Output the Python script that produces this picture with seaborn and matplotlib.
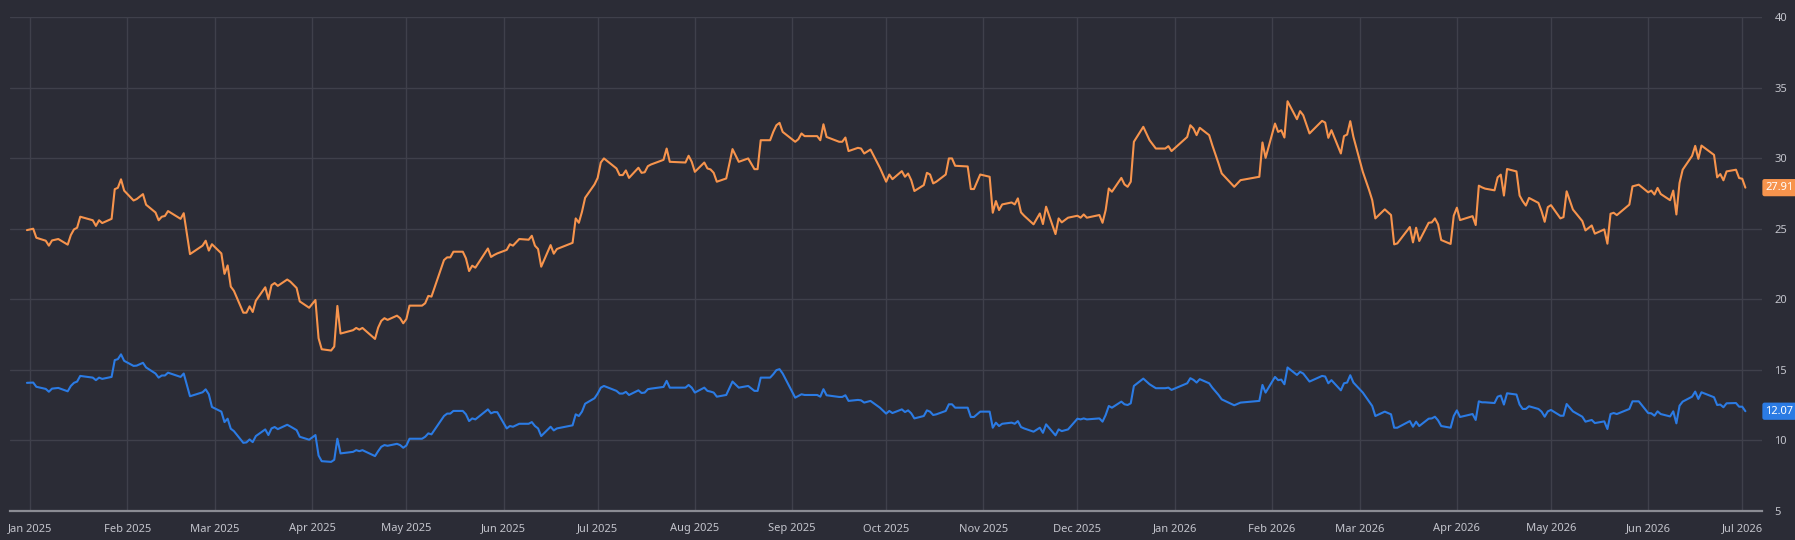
import pandas as pd
import matplotlib
matplotlib.use("Agg")
import matplotlib.pyplot as plt
import matplotlib.dates as mdates
import matplotlib.transforms as mtransforms
import seaborn as sns

# trading days, as day offsets from 2025-01-01
day = [-1, 1, 2, 5, 6, 7, 9, 12, 13, 14, 15, 16, 20, 21, 22, 23, 26, 27, 28, 29, 30,
       33, 34, 36, 37, 40, 41, 42, 43, 44, 48, 49, 51, 55, 56, 57, 58, 61, 62, 63, 64,
       65, 68, 69, 70, 71, 72, 75, 76, 77, 78, 79, 82, 83, 85, 86, 89,
       91, 92, 93, 96, 97, 98, 99, 103, 104, 105, 106, 110, 111, 112, 113, 114, 117,
       118, 119, 120, 121, 125, 126, 127, 128, 132, 133, 134, 135, 138, 139, 140, 141,
       142, 146, 147, 148, 149, 152, 153, 154, 156, 159, 160, 161, 162, 163, 166, 167,
       168, 173, 174, 175, 176,
       177, 180, 181, 182, 183, 187, 188, 189, 190, 191, 194, 195, 196, 197, 198, 202,
       203, 204, 209, 210, 211, 212, 215, 216, 217, 218, 219, 222, 224, 226, 229, 231,
       232, 233, 236, 237, 238, 239, 240, 244, 245, 246, 247, 251, 252, 253, 254, 258,
       259, 260, 261, 264, 265, 266, 268, 271, 273,
       274, 275, 278, 279, 280, 281, 282, 285, 286, 287, 288, 289, 292, 293, 294, 295,
       299, 300, 301, 303, 306, 307, 308, 309, 310, 313, 314, 315, 316, 317, 320, 322,
       323, 324, 327, 328, 329, 331, 334, 335, 336, 337, 341, 342, 343, 344, 345, 348,
       349, 350, 351, 352, 355, 357, 359, 362, 363, 364,
       369, 370, 371, 372, 373, 376, 377, 379, 380, 384, 386, 392, 393, 394, 397, 398,
       399, 400, 401, 404, 405, 406, 408, 412, 413, 414, 415, 418, 419, 420, 421, 422,
       425, 427, 428, 429, 432, 434, 435, 436, 440, 441, 442, 443, 446, 447, 448, 449,
       450, 453, 454, 455, 456,
       460, 461, 462, 463, 464, 467, 468, 469, 470, 471, 474, 475, 476, 477, 478, 481,
       482, 483, 484, 485, 488, 489, 490, 492, 495, 496, 498, 499, 502, 503, 504, 505,
       506, 510, 511, 513, 516, 517, 518, 519, 520, 523, 524, 525, 526, 527, 530, 531,
       532, 533, 537, 538, 539, 540, 541, 544, 545, 546, 547]

orange = [24.9, 25.0, 24.36, 24.15, 23.8, 24.17, 24.27, 23.87, 24.55, 24.95, 25.07, 25.85,
          25.6, 25.2, 25.6, 25.4, 25.7, 27.8, 27.9, 28.5, 27.7, 27.0, 27.1, 27.45, 26.7,
          26.15, 25.6, 25.85, 25.9, 26.25, 25.7, 26.1, 23.2, 23.8, 24.15, 23.45, 23.9,
          23.25, 21.8, 22.4, 20.9, 20.6, 19.05, 19.05, 19.5, 19.1, 19.9, 20.85, 20.0, 21.0,
          21.15, 20.95, 21.4, 21.25, 20.8, 19.85, 19.4,
          19.95, 17.24, 16.46, 16.37, 16.65, 19.53, 17.57, 17.81, 17.97, 17.85, 17.97,
          17.19, 17.99, 18.47, 18.66, 18.54, 18.84, 18.66, 18.3, 18.6, 19.55, 19.55, 19.72,
          20.24, 20.19, 22.78, 22.97, 22.97, 23.37, 23.37, 22.9, 22.0, 22.38, 22.24, 23.6,
          23.0, 23.14, 23.25, 23.5, 23.9, 23.8, 24.27, 24.22, 24.5, 23.8, 23.56, 22.31,
          23.84, 23.23, 23.56, 24.0, 25.73, 25.42, 26.2,
          27.19, 28.14, 28.6, 29.69, 29.98, 29.27, 28.8, 28.8, 29.13, 28.6, 29.32, 28.96,
          29.0, 29.43, 29.55, 29.88, 30.68, 29.74, 29.69, 30.17, 29.74, 29.03, 29.69, 29.27,
          29.2, 28.96, 28.33, 28.56, 30.64, 29.74, 29.98, 29.22, 29.22, 31.27, 31.27, 31.86,
          32.33, 32.5, 31.86, 31.16, 31.34, 31.75, 31.56, 31.56, 31.27, 32.4, 31.5, 31.16,
          31.16, 31.46, 30.5, 30.73, 30.68, 30.33, 30.61, 29.32, 28.33,
          28.84, 28.51, 29.08, 28.68, 28.91, 28.44, 27.67, 28.09, 28.96, 28.84, 28.21,
          28.33, 28.84, 29.98, 29.98, 29.46, 29.41, 27.81, 27.81, 28.84, 28.68, 26.13,
          26.96, 26.32, 26.72, 26.86, 26.72, 27.15, 26.16, 25.92, 25.31, 26.08, 25.33,
          26.56, 24.62, 25.73, 25.45, 25.78, 25.92, 25.78, 26.01, 25.78, 25.97, 25.42,
          26.32, 27.85, 27.62, 28.6, 28.14, 27.97, 28.33, 31.16, 32.22, 31.27, 30.68,
          30.68, 30.85, 30.5,
          31.5, 32.33, 32.1, 31.63, 32.15, 31.63, 30.92, 29.62, 28.92, 27.97, 28.44, 28.68,
          31.11, 30.02, 32.45, 31.86, 31.98, 31.46, 34.03, 32.76, 33.33, 33.04, 31.75,
          32.64, 32.52, 31.44, 31.98, 30.33, 31.56, 31.67, 32.62, 31.51, 29.03, 27.74,
          27.03, 25.73, 26.37, 25.97, 23.89, 23.96, 25.12, 24.03, 25.07, 24.13, 25.42,
          25.45, 25.73, 25.31, 24.2, 23.92, 25.92, 26.49, 25.61,
          25.89, 25.26, 28.05, 27.93, 27.84, 27.72, 28.64, 28.83, 27.35, 29.23, 29.06,
          27.35, 26.95, 26.64, 27.18, 26.83, 26.24, 25.49, 26.53, 26.67, 25.73, 25.82,
          27.65, 26.36, 25.54, 24.88, 25.23, 24.65, 24.95, 23.94, 26.06, 26.13, 25.96,
          26.71, 28.0, 28.12, 27.58, 27.7, 27.42, 27.89, 27.46, 27.02, 27.7, 26.01, 28.24,
          29.18, 30.16, 30.87, 29.95, 30.89, 30.23, 28.64, 28.87, 28.43, 29.06, 29.18,
          28.59, 28.54, 27.91]

blue = [14.08, 14.1, 13.8, 13.65, 13.45, 13.67, 13.72, 13.48, 13.86, 14.08, 14.17, 14.57,
        14.45, 14.27, 14.45, 14.36, 14.5, 15.69, 15.76, 16.1, 15.64, 15.28, 15.3, 15.5,
        15.17, 14.74, 14.45, 14.6, 14.6, 14.8, 14.5, 14.74, 13.13, 13.41, 13.62, 13.27,
        12.37, 12.04, 11.3, 11.54, 10.83, 10.66, 9.83, 9.86, 10.07, 9.88, 10.31, 10.78,
        10.38, 10.85, 10.95, 10.8, 11.11, 10.99, 10.73, 10.26, 10.05,
        10.38, 8.93, 8.53, 8.48, 8.63, 10.12, 9.08, 9.19, 9.31, 9.24, 9.31, 8.89, 9.24,
        9.55, 9.67, 9.62, 9.76, 9.67, 9.48, 9.64, 10.12, 10.12, 10.26, 10.5, 10.43, 11.73,
        11.9, 11.9, 12.09, 12.09, 11.85, 11.37, 11.56, 11.49, 12.2, 11.92, 12.01, 12.0,
        10.85, 11.02, 10.97, 11.18, 11.18, 11.3, 11.02, 10.85, 10.31, 10.97, 10.71, 10.85,
        11.07, 11.85, 11.73, 12.04,
        12.6, 12.99, 13.32, 13.74, 13.86, 13.51, 13.32, 13.32, 13.44, 13.22, 13.55, 13.36,
        13.39, 13.63, 13.67, 13.79, 14.22, 13.74, 13.74, 13.93, 13.74, 13.39, 13.74, 13.51,
        13.46, 13.39, 13.1, 13.22, 14.17, 13.74, 13.86, 13.51, 13.51, 14.45, 14.45, 14.69,
        14.98, 15.05, 14.74, 13.03, 13.15, 13.27, 13.22, 13.22, 13.1, 13.63, 13.2, 13.08,
        13.08, 13.2, 12.8, 12.87, 12.84, 12.68, 12.8, 12.32, 11.9,
        12.09, 11.94, 12.2, 12.01, 12.13, 11.92, 11.56, 11.73, 12.13, 12.04, 11.8, 11.85,
        12.09, 12.56, 12.56, 12.32, 12.32, 11.66, 11.66, 12.04, 12.04, 10.9, 11.26, 11.02,
        11.18, 11.26, 11.18, 11.37, 10.95, 10.85, 10.62, 10.9, 10.54, 11.14, 10.36, 10.78,
        10.66, 10.78, 11.54, 11.49, 11.56, 11.49, 11.56, 11.33, 11.8, 12.44, 12.32, 12.75,
        12.56, 12.51, 12.63, 13.86, 14.38, 13.98, 13.7, 13.7, 13.74, 13.58,
        14.05, 14.41, 14.29, 14.1, 14.34, 14.05, 13.74, 13.22, 12.91, 12.49, 12.68, 12.8,
        13.93, 13.39, 14.5, 14.27, 14.31, 13.98, 15.17, 14.64, 14.86, 14.74, 14.17, 14.57,
        14.53, 14.05, 14.27, 13.55, 14.05, 14.1, 14.62, 14.1, 13.39, 12.75, 12.44, 11.73,
        12.04, 11.85, 10.9, 10.9, 11.37, 10.97, 11.33, 11.02, 11.54, 11.56, 11.68, 11.42,
        11.02, 10.9, 11.73, 12.13, 11.66,
        11.87, 11.45, 12.77, 12.7, 12.7, 12.65, 13.1, 13.18, 12.54, 13.34, 13.25, 12.54,
        12.23, 12.23, 12.42, 12.23, 12.04, 11.68, 12.06, 12.16, 11.75, 11.75, 12.58, 12.06,
        11.68, 11.33, 11.45, 11.23, 11.35, 10.81, 11.87, 11.94, 11.87, 12.23, 12.77, 12.77,
        11.94, 11.92, 11.75, 12.06, 11.87, 11.7, 12.06, 11.21, 12.46, 12.75, 13.1, 13.46,
        12.94, 13.41, 13.06, 12.51, 12.54, 12.35, 12.63, 12.65, 12.39, 12.39, 12.07]

y_ticks = [5, 10, 15, 20, 25, 30, 35, 40]

BG = "#2b2c36"
GRID = "#3f404b"
ORANGE = "#f7944d"
BLUE = "#2b7be4"
TXT = "#c3c4cc"

sns.set_style("dark", {"axes.facecolor": BG, "figure.facecolor": BG})
plt.rcParams["font.family"] = ["Noto Sans", "DejaVu Sans"]

start = pd.Timestamp("2025-01-01")
df = pd.DataFrame({"date": start + pd.to_timedelta(day, unit="D"),
                   "orange": orange, "blue": blue})

fig = plt.figure(figsize=(17.95, 5.4), dpi=100)
ax = fig.add_axes([10 / 1795, 1 - 511 / 540, 1752 / 1795, 494 / 540])

sns.lineplot(data=df, x="date", y="orange", color=ORANGE, linewidth=1.5, ax=ax)
sns.lineplot(data=df, x="date", y="blue", color=BLUE, linewidth=1.5, ax=ax)

ax.set_xlim(start - pd.Timedelta(days=6.4), start + pd.Timedelta(days=552.3))
ax.set_ylim(5, 40)
ax.set_xlabel("")
ax.set_ylabel("")

months = pd.date_range("2025-01-01", "2026-07-01", freq="MS")
ax.set_xticks(months)
ax.xaxis.set_major_formatter(mdates.DateFormatter("%b %Y"))
ax.set_yticks(y_ticks)
ax.yaxis.tick_right()
ax.tick_params(axis="both", length=0, colors=TXT, labelsize=8)
ax.tick_params(axis="y", pad=9)
ax.tick_params(axis="x", pad=9)

ax.grid(True, color=GRID, linewidth=1)
for side in ["top", "left", "right"]:
    ax.spines[side].set_visible(False)
ax.spines["bottom"].set_color("#8b8c94")
ax.spines["bottom"].set_linewidth(1.6)

# last value tags on the right edge
trans = mtransforms.blended_transform_factory(ax.transAxes, ax.transData)
for vals, col in [(orange, ORANGE), (blue, BLUE)]:
    ax.annotate(f"{vals[-1]:.2f}", xy=(1.0, vals[-1]), xycoords=trans,
                xytext=(2.5, 0), textcoords="offset points", ha="left", va="center",
                color="white", fontsize=8, fontweight="semibold",
                bbox=dict(boxstyle="round,pad=0.28,rounding_size=0.2", fc=col, ec="none"),
                annotation_clip=False)

fig.savefig("out.png", dpi=100, facecolor=BG)
